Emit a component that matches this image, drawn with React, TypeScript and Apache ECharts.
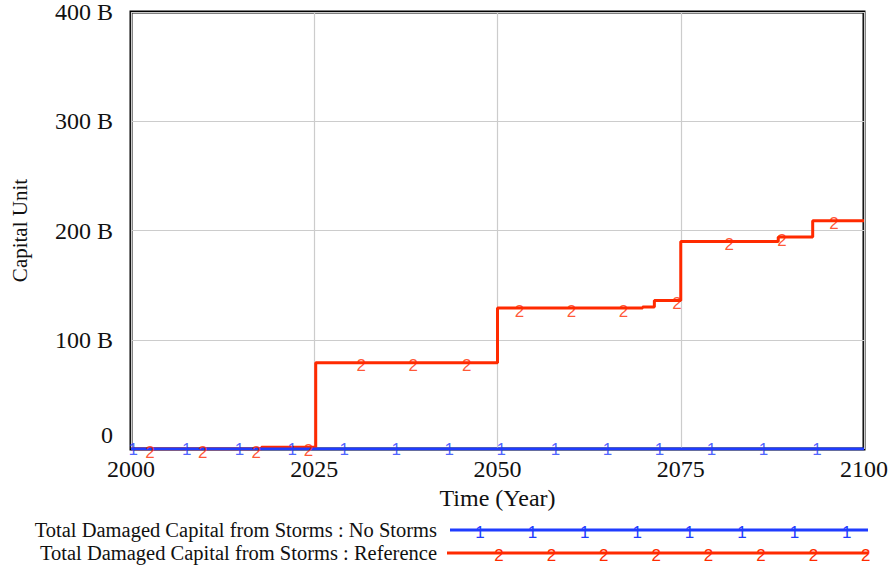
import React, { useEffect, useRef } from "react";
import * as echarts from "echarts";

// Time (Year) at which each value starts (step data), values in billions of capital units
const referenceYears = [2000, 2017.8, 2025.2, 2050, 2069.8, 2071.4, 2075, 2088.3, 2093, 2100];
const referenceValues = [0, 1.5, 79, 129, 130, 136, 190, 194, 209, 209];
const noStormsYears = [2000, 2100];
const noStormsValues = [0, 0];

// years where Vensim drew the series' number markers
const noStormsMarkerYears = [2000.3, 2007.6, 2014.8, 2022.0, 2029.1, 2036.2, 2043.4, 2050.5, 2057.9, 2065.0, 2072.1, 2079.2, 2086.3, 2093.6];
const referenceMarkerYears = [2002.6, 2009.8, 2017.1, 2024.2, 2031.4, 2038.5, 2045.8, 2053.0, 2060.1, 2067.2, 2074.5, 2081.6, 2088.8, 2095.9];

const xTicks = [2000, 2025, 2050, 2075, 2100];
const yTicks = [0, 100, 200, 300, 400];

const seriesNames = [
  "Total Damaged Capital from Storms : No Storms",
  "Total Damaged Capital from Storms : Reference",
];

const BLUE = "#1f3cff";
const RED = "#ff2a00";
const SERIF = "'Liberation Serif', 'Times New Roman', serif";
const SANS = "'Liberation Sans', Arial, sans-serif";

function stepValue(years: number[], values: number[], t: number) {
  let v = values[0];
  for (let i = 0; i < years.length; i++) {
    if (years[i] <= t) v = values[i];
  }
  return v;
}

export default function App() {
  const ref = useRef<HTMLDivElement>(null);
  useEffect(() => {
    if (!ref.current) return;
    const chart = echarts.init(ref.current, undefined, { renderer: "svg" });
    const refData = referenceYears.map((y, i) => [y, referenceValues[i]]);
    const noData = noStormsYears.map((y, i) => [y, noStormsValues[i]]);
    const refMarkers = referenceMarkerYears.map((t) => [t, stepValue(referenceYears, referenceValues, t)]);
    const noMarkers = noStormsMarkerYears.map((t) => [t, stepValue(noStormsYears, noStormsValues, t)]);

    const legendGraphics: any[] = [];
    const legendRows = [
      { name: seriesNames[0], color: BLUE, digit: "1", y: 530, x0: 450, m0: 480 },
      { name: seriesNames[1], color: RED, digit: "2", y: 553, x0: 447, m0: 499 },
    ];
    legendRows.forEach((r) => {
      legendGraphics.push({
        type: "text",
        x: 437,
        y: r.y,
        style: {
          text: r.name,
          fill: "#111",
          font: `20.5px ${SERIF}`,
          align: "right",
          verticalAlign: "middle",
        },
      });
      legendGraphics.push({
        type: "line",
        shape: { x1: r.x0, y1: r.y, x2: 868, y2: r.y },
        style: { stroke: r.color, lineWidth: 3 },
      });
      for (let k = 0; k < 8; k++) {
        legendGraphics.push({
          type: "text",
          x: r.m0 + k * 52.4,
          y: r.y + 2,
          style: {
            text: r.digit,
            fill: r.color,
            font: `17px ${SANS}`,
            align: "center",
            verticalAlign: "middle",
          },
        });
      }
    });

    chart.setOption({
      animation: false,
      backgroundColor: "#fff",
      grid: {
        left: 131,
        right: 28,
        top: 9,
        bottom: 120,
        show: true,
        borderColor: "#000",
        borderWidth: 3,
        backgroundColor: "transparent",
      },
      xAxis: {
        type: "value",
        min: 2000,
        max: 2100,
        interval: 25,
        name: "Time (Year)",
        nameLocation: "middle",
        nameGap: 35,
        nameTextStyle: { fontFamily: SERIF, fontSize: 24, color: "#111" },
        axisLine: { show: false },
        axisTick: { show: false },
        axisLabel: {
          fontFamily: SERIF,
          fontSize: 24,
          color: "#111",
          margin: 8,
          formatter: (v: number) => (xTicks.includes(v) ? String(v) : ""),
        },
        splitLine: { show: true, lineStyle: { color: "#cccccc", width: 1.2 } },
      },
      yAxis: {
        type: "value",
        min: 0,
        max: 400,
        interval: 100,
        name: "Capital Unit",
        nameLocation: "middle",
        nameRotate: 90,
        nameGap: 101,
        nameTextStyle: { fontFamily: SERIF, fontSize: 21, color: "#111" },
        axisLine: { show: false },
        axisTick: { show: false },
        axisLabel: {
          fontFamily: SERIF,
          fontSize: 24,
          color: "#111",
          margin: 18,
          formatter: (v: number) => (v === 0 ? "{z|0}" : yTicks.includes(v) ? `${v} B` : ""),
          rich: {
            z: { fontFamily: SERIF, fontSize: 24, color: "#111", padding: [0, 0, 28, 0] },
          },
        },
        splitLine: { show: true, lineStyle: { color: "#cccccc", width: 1.2 } },
      },
      graphic: legendGraphics,
      series: [
        {
          name: seriesNames[1],
          type: "line",
          step: "end",
          data: refData,
          symbol: "none",
          lineStyle: { color: RED, width: 3 },
          z: 3,
        },
        {
          name: seriesNames[0],
          type: "line",
          step: "end",
          data: noData,
          symbol: "none",
          lineStyle: { color: BLUE, width: 3 },
          z: 4,
        },
        {
          type: "scatter",
          data: refMarkers,
          symbolSize: 0,
          z: 5,
          label: {
            show: true,
            position: "inside",
            formatter: "2",
            offset: [0, 3],
            color: RED,
            fontFamily: SANS,
            fontSize: 17,
          },
        },
        {
          type: "scatter",
          data: noMarkers,
          symbolSize: 0,
          z: 5,
          label: {
            show: true,
            position: "inside",
            formatter: "1",
            offset: [0, 0],
            color: BLUE,
            fontFamily: SANS,
            fontSize: 17,
          },
        },
      ],
    });
    return () => chart.dispose();
  }, []);
  return (
    <div
      ref={ref}
      style={{ position: "fixed", left: 0, top: 0, width: 892, height: 569, background: "#fff" }}
    />
  );
}
